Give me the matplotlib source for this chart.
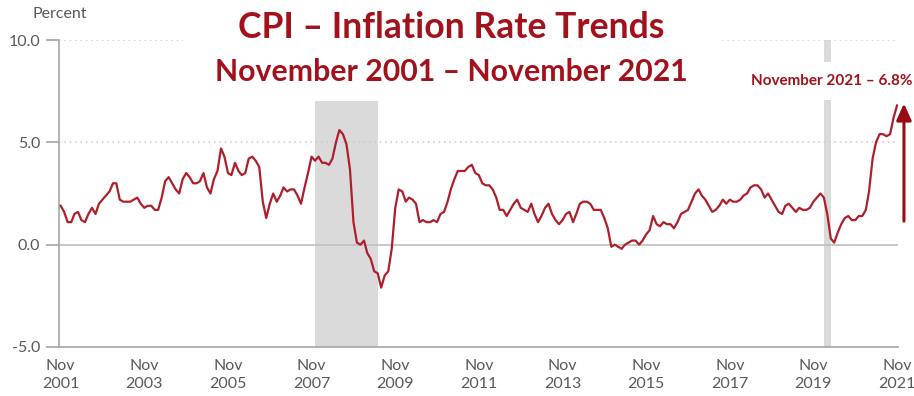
import matplotlib
matplotlib.use("Agg")
import matplotlib.pyplot as plt
from matplotlib.patches import Rectangle
import pandas as pd

# 12-month percent change in CPI, monthly, Nov 2001 - Nov 2021
cpi_2001 = [1.9, 1.6]
cpi_2002 = [1.1, 1.1, 1.5, 1.6, 1.2, 1.1, 1.5, 1.8, 1.5, 2.0, 2.2, 2.4]
cpi_2003 = [2.6, 3.0, 3.0, 2.2, 2.1, 2.1, 2.1, 2.2, 2.3, 2.0, 1.8, 1.9]
cpi_2004 = [1.9, 1.7, 1.7, 2.3, 3.1, 3.3, 3.0, 2.7, 2.5, 3.2, 3.5, 3.3]
cpi_2005 = [3.0, 3.0, 3.1, 3.5, 2.8, 2.5, 3.2, 3.6, 4.7, 4.3, 3.5, 3.4]
cpi_2006 = [4.0, 3.6, 3.4, 3.5, 4.2, 4.3, 4.1, 3.8, 2.1, 1.3, 2.0, 2.5]
cpi_2007 = [2.1, 2.4, 2.8, 2.6, 2.7, 2.7, 2.4, 2.0, 2.8, 3.5, 4.3, 4.1]
cpi_2008 = [4.3, 4.0, 4.0, 3.9, 4.2, 5.0, 5.6, 5.4, 4.9, 3.7, 1.1, 0.1]
cpi_2009 = [0.0, 0.2, -0.4, -0.7, -1.3, -1.4, -2.1, -1.5, -1.3, -0.2, 1.8, 2.7]
cpi_2010 = [2.6, 2.1, 2.3, 2.2, 2.0, 1.1, 1.2, 1.1, 1.1, 1.2, 1.1, 1.5]
cpi_2011 = [1.6, 2.1, 2.7, 3.2, 3.6, 3.6, 3.6, 3.8, 3.9, 3.5, 3.4, 3.0]
cpi_2012 = [2.9, 2.9, 2.7, 2.3, 1.7, 1.7, 1.4, 1.7, 2.0, 2.2, 1.8, 1.7]
cpi_2013 = [1.6, 2.0, 1.5, 1.1, 1.4, 1.8, 2.0, 1.5, 1.2, 1.0, 1.2, 1.5]
cpi_2014 = [1.6, 1.1, 1.5, 2.0, 2.1, 2.1, 2.0, 1.7, 1.7, 1.7, 1.3, 0.8]
cpi_2015 = [-0.1, 0.0, -0.1, -0.2, 0.0, 0.1, 0.2, 0.2, 0.0, 0.2, 0.5, 0.7]
cpi_2016 = [1.4, 1.0, 0.9, 1.1, 1.0, 1.0, 0.8, 1.1, 1.5, 1.6, 1.7, 2.1]
cpi_2017 = [2.5, 2.7, 2.4, 2.2, 1.9, 1.6, 1.7, 1.9, 2.2, 2.0, 2.2, 2.1]
cpi_2018 = [2.1, 2.2, 2.4, 2.5, 2.8, 2.9, 2.9, 2.7, 2.3, 2.5, 2.2, 1.9]
cpi_2019 = [1.6, 1.5, 1.9, 2.0, 1.8, 1.6, 1.8, 1.7, 1.7, 1.8, 2.1, 2.3]
cpi_2020 = [2.5, 2.3, 1.5, 0.3, 0.1, 0.6, 1.0, 1.3, 1.4, 1.2, 1.2, 1.4]
cpi_2021 = [1.4, 1.7, 2.6, 4.2, 5.0, 5.4, 5.4, 5.3, 5.4, 6.2, 6.8]

cpi = (cpi_2001 + cpi_2002 + cpi_2003 + cpi_2004 + cpi_2005 + cpi_2006
       + cpi_2007 + cpi_2008 + cpi_2009 + cpi_2010 + cpi_2011 + cpi_2012
       + cpi_2013 + cpi_2014 + cpi_2015 + cpi_2016 + cpi_2017 + cpi_2018
       + cpi_2019 + cpi_2020 + cpi_2021)
months = pd.date_range("2001-11-01", periods=len(cpi), freq="MS")

# Recessions (start, end, shading top in percent)
recession_start = ["2007-12-01", "2020-02-01"]
recession_end = ["2009-06-01", "2020-04-01"]
recession_top = [7.0, 10.0]

tick_years = list(range(2001, 2022, 2))
y_ticks = [-5.0, 0.0, 5.0, 10.0]

LINE = "#AE1F2B"
DARK_RED = "#A3121C"
GREY_TXT = "#595959"
AXIS_GREY = "#A6A6A6"

plt.rcParams["font.family"] = ["Lato", "DejaVu Sans"]

fig = plt.figure(figsize=(9.14, 3.96), dpi=100)
ax = fig.add_axes([59 / 914, 1 - 347 / 396, (898 - 59) / 914, (347 - 40) / 396])

for s, e, top in zip(recession_start, recession_end, recession_top):
    ax.fill_between([pd.Timestamp(s), pd.Timestamp(e)], -5, top,
                    color="#DADADA", lw=0, zorder=1)

for yv in y_ticks:
    if yv == 0:
        ax.axhline(yv, color="#BFBFBF", lw=1.2, zorder=2)
    elif yv > 0:
        ax.axhline(yv, color="#C8C8C8", lw=1.1, ls=(0, (1, 2.5)), zorder=2)

ax.plot(months, cpi, color=LINE, lw=1.6, zorder=4)

ax.set_ylim(-5, 10)
ax.set_xlim(months[0] - pd.Timedelta(days=15), months[-1] + pd.Timedelta(days=8))
ax.set_yticks(y_ticks)
ax.set_yticklabels([f"{v:.1f}" for v in y_ticks])
ax.set_xticks([pd.Timestamp(f"{y}-11-01") for y in tick_years])
ax.set_xticklabels([f"Nov\n{y}" for y in tick_years])

for side in ("top", "right"):
    ax.spines[side].set_visible(False)
for side in ("left", "bottom"):
    ax.spines[side].set_color(AXIS_GREY)
    ax.spines[side].set_linewidth(1.2)

ax.tick_params(axis="y", length=9.5, width=1.2, color=AXIS_GREY, pad=4,
               labelsize=11.5, labelcolor=GREY_TXT)
ax.tick_params(axis="x", length=0, pad=9, labelsize=11.5, labelcolor=GREY_TXT)
for lab in ax.get_xticklabels():
    lab.set_linespacing(1.3)

# white panel behind the titles, interrupting the top gridline
fig.patches.append(Rectangle((183 / 914, 1 - 95 / 396), (718 - 183) / 914, 95 / 396,
                             transform=fig.transFigure, facecolor="white",
                             edgecolor="none", zorder=3))

fig.text(451 / 914, 1 - 27 / 396, "CPI – Inflation Rate Trends", ha="center",
         va="center", fontsize=25.6, fontweight="bold", color=DARK_RED, zorder=5)
fig.text(451 / 914, 1 - 72 / 396, "November 2001 – November 2021", ha="center",
         va="center", fontsize=21.8, fontweight="bold", color=DARK_RED, zorder=5)
fig.text(32 / 914, 1 - 14 / 396, "Percent", ha="left", va="center",
         fontsize=11.5, color=GREY_TXT)

last = cpi[-1]
ax.text(832 / 914, 1 - 81 / 396, f"November 2021 – {last:.1f}%",
        transform=fig.transFigure, ha="center", va="center", fontsize=11,
        fontweight="bold", color=DARK_RED, zorder=6,
        bbox=dict(boxstyle="square,pad=0.8", facecolor="white", edgecolor="none"))

arrow_x = months[-1] + pd.Timedelta(days=60)
ax.annotate("", xy=(arrow_x, last + 0.1), xytext=(arrow_x, 1.15),
            arrowprops=dict(arrowstyle="-|>,head_length=1.0,head_width=0.45",
                            color="#990A14", lw=2.2, shrinkA=0, shrinkB=0),
            annotation_clip=False, zorder=6)

fig.savefig("out.png", dpi=100)
